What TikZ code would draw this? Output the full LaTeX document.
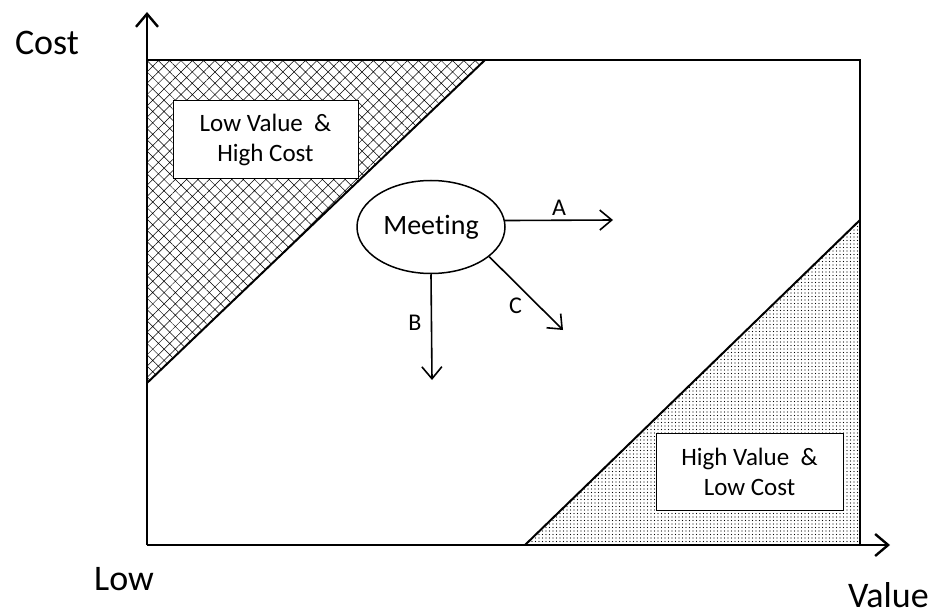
\documentclass[tikz,border=0pt]{standalone}
\usepackage{fontspec}
\setmainfont{Carlito}[Ligatures=NoCommon]
\usetikzlibrary{arrows.meta,positioning,shapes.geometric,patterns.meta}

\tikzset{
  axis/.style={line width=2.4pt, -{Straight Barb[length=13pt,width=22pt]}},
  edge/.style={line width=2pt},
  move/.style={line width=1.6pt, -{Straight Barb[length=12pt,width=20pt]}},
  zone/.style={draw, fill=white, line width=1pt, align=center, font=\fontsize{25}{30}\selectfont},
  tag/.style={font=\fontsize{24}{28}\selectfont},
  title/.style={font=\fontsize{36}{40}\selectfont}
}

\begin{document}
\begin{tikzpicture}[x=1pt, y=-1pt]
\useasboundingbox (0,0) rectangle (932,615);
% corners of the chart
\coordinate (o) at (147,545);
\coordinate (ytop) at (147,60);
\coordinate (ytip) at (147,12);
\coordinate (xtip) at (890,545);
\coordinate (tr) at (860,60);
\coordinate (br) at (860,545);
\coordinate (uhi) at (485,60);
\coordinate (ulo) at (147,383);
\coordinate (lhi) at (860,220);
\coordinate (llo) at (525,545);

% shaded regions
\fill[pattern={Hatch[angle=45,distance=8pt,line width=0.5pt]}] (ytop) -- (uhi) -- (ulo) -- cycle;
\fill[pattern={Dots[distance=3.5pt,radius=0.65pt]}] (llo) -- (br) -- (lhi) -- cycle;
\draw[edge] (uhi) -- (ulo);
\draw[edge] (llo) -- (lhi);

% frame and axes
\draw[edge] (ytop) -- (tr) -- (br);
\draw[axis] (o) -- (ytip);
\draw[axis] (o) -- (xtip);

\node[zone, minimum width=185pt, minimum height=78pt] (lowval) at (265.5,140) {Low Value\ \ \&\\High Cost};
\node[zone, minimum width=187pt, minimum height=77pt] (highval) at (749.5,471.5) {High Value\ \ \&\\Low Cost};

\node[title] (cost) at (47,43) {Cost};
\node[title] (low) at (124,579) {Low};
\node[title, anchor=base east, inner sep=0pt] (value) at (929,607) {Value};

% the meeting and where it can go
\node[draw, ellipse, line width=1.5pt, minimum width=148pt, minimum height=93pt, inner sep=0pt,
      font=\fontsize{28}{32}\selectfont] (meet) at (431,227) {Meeting};
\coordinate (aend) at (613,220);
\coordinate (bend) at (432,380);
\coordinate (cend) at (563,330);
\draw[move] (meet.5) -- node[tag, midway, above=1pt] {A} (aend);
\draw[move] (meet.south) -- node[tag, pos=0.46, left=6pt] {B} (bend);
\draw[move] (meet.-27) -- node[tag, midway, below left=0pt] {C} (cend);
\end{tikzpicture}
\end{document}
